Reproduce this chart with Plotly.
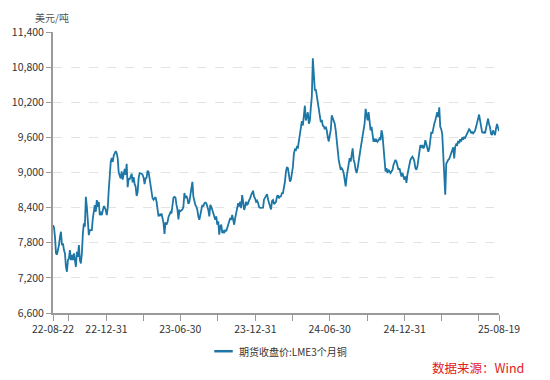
import pandas as pd
import plotly.graph_objects as go

# ---- data ----
start_date = "2022-08-22"
end_date = "2025-08-19"
series_name = "期货收盘价:LME3个月铜"
unit_label = "美元/吨"
source_label = "数据来源：Wind"

prices = [
    8101, 8060, 7900, 7620, 7600, 7680, 7760, 7902, 7988, 7760,
    7789, 7675, 7618, 7390, 7305, 7504, 7533, 7675, 7504, 7590,
    7504, 7618, 7533, 7390, 7646, 7561, 7760, 7504, 7447, 7618,
    7959, 8130, 8073, 8585, 8414, 8187, 7931, 8016, 8016, 8016,
    8215, 8357, 8443, 8329, 8528, 8414, 8500, 8272, 8329, 8272,
    8386, 8426, 8403, 8357, 8272, 8400, 8700, 9000, 9180, 9250,
    9180, 9290, 9345, 9364, 9330, 9240, 9000, 8930, 8900, 9020,
    8880, 8970, 9060, 8960, 9150, 8750, 8900, 8880, 8940, 8980,
    8830, 8920, 8800, 8760, 8600, 8660, 8900, 8990, 8985, 8983,
    8960, 8910, 8800, 8900, 8910, 9030, 9010, 8880, 8760, 8600,
    8560, 8535, 8550, 8580, 8500, 8400, 8250, 8290, 8260, 8300,
    8200, 8140, 7950, 8150, 8110, 8150, 8240, 8270, 8320, 8300,
    8400, 8570, 8585, 8574, 8450, 8370, 8200, 8350, 8340, 8360,
    8369, 8420, 8650, 8560, 8600, 8558, 8463, 8502, 8615, 8699,
    8840, 8587, 8502, 8446, 8418, 8361, 8249, 8192, 8277, 8390,
    8446, 8418, 8474, 8485, 8474, 8418, 8361, 8249, 8446, 8418,
    8361, 8305, 8221, 8192, 8249, 8108, 8164, 7939, 8080, 8108,
    7967, 7995, 7967, 8023, 7995, 8052, 8080, 8164, 8221, 8192,
    8277, 8192, 8108, 8221, 8305, 8390, 8474, 8418, 8502, 8390,
    8615, 8502, 8361, 8418, 8502, 8446, 8474, 8530, 8558, 8615,
    8671, 8688, 8587, 8558, 8502, 8520, 8480, 8410, 8396, 8396,
    8396, 8400, 8540, 8580, 8620, 8630, 8540, 8470, 8396, 8368,
    8515, 8530, 8460, 8490, 8500, 8590, 8610, 8560, 8590, 8593,
    8649, 8649, 8734, 8846, 9015, 9090, 9072, 8903, 8846, 8875,
    8987, 9100, 9325, 9392, 9381, 9438, 9426, 9550, 9606, 9803,
    9877, 9803, 9955, 10141, 9888, 9972, 10029, 9832, 9888, 10113,
    10300, 10950, 10700, 10400, 10420, 10300, 10150, 10050, 9950, 9860,
    9900, 9800, 9790, 9740, 9780, 9720, 9600, 9530, 9640, 9719,
    9975, 9918, 9890, 9834, 9721, 9553, 9271, 9215, 9130, 9046,
    9074, 9046, 8990, 8877, 8764, 8933, 9018, 9102, 9243, 9187,
    9271, 9412, 9215, 9159, 9046, 8990, 9074, 9159, 9299, 9412,
    9524, 9609, 9721, 9834, 10087, 9947, 9890, 10031, 9890, 9721,
    9778, 9637, 9524, 9580, 9524, 9553, 9524, 9553, 9580, 9553,
    9721, 9637, 9384, 9215, 9018, 9074, 8990, 9046, 9018, 8990,
    9018, 9046, 9130, 9187, 9215, 9187, 9074, 9046, 9074, 8962,
    8933, 8990, 8905, 8877, 8933, 8821, 8962, 9074, 9130, 9215,
    9243, 9271, 9243, 9187, 9074, 9046, 9102, 9215, 9412, 9468,
    9440, 9468, 9412, 9440, 9553, 9496, 9440, 9355, 9412, 9580,
    9693, 9665, 9778, 9834, 9890, 9975, 10031, 9947, 10115, 9780,
    9740, 9650, 9200, 8880, 8620, 9150, 9200, 9215, 9230, 9280,
    9360, 9400, 9430, 9240, 9440, 9480, 9470, 9540, 9500, 9570,
    9530, 9600, 9560, 9600, 9590, 9630, 9660, 9690, 9740, 9720,
    9670, 9690, 9670, 9690, 9720, 9780, 9880, 9920, 9990, 9900,
    9840, 9690, 9680, 9690, 9670, 9780, 9840, 9920, 9830, 9770,
    9660, 9640, 9720, 9660, 9640, 9750, 9830, 9770, 9710,
]

dates = pd.date_range(start_date, end_date, periods=len(prices))

y_ticks = [6600, 7200, 7800, 8400, 9000, 9600, 10200, 10800, 11400]

x_tick_dates = [
    "2022-08-22", "2022-09-30", "2022-12-31", "2023-03-31", "2023-06-30",
    "2023-09-30", "2023-12-31", "2024-03-31", "2024-06-30", "2024-09-30",
    "2024-12-31", "2025-03-31", "2025-06-30", "2025-08-19",
]
x_tick_text = [
    "22-08-22", "", "22-12-31", "", "23-06-30",
    "", "23-12-31", "", "24-06-30", "",
    "24-12-31", "", "", "25-08-19",
]

LINE_COLOR = "#1c76a6"
AXIS_COLOR = "#9a9a9a"
TEXT_COLOR = "#333333"
FONT = "Microsoft YaHei, Noto Sans CJK SC, sans-serif"

fig = go.Figure()
fig.add_trace(go.Scatter(
    x=dates, y=prices, mode="lines", name=series_name,
    line=dict(color=LINE_COLOR, width=1.8),
    showlegend=False,
))

fig.update_layout(
    width=550, height=380,
    margin=dict(l=51, r=51, t=32, b=67),
    paper_bgcolor="white", plot_bgcolor="white",
    font=dict(family=FONT, size=10, color=TEXT_COLOR),
    xaxis=dict(
        type="date",
        range=[start_date, end_date],
        tickmode="array", tickvals=x_tick_dates, ticktext=x_tick_text,
        ticks="outside", ticklen=6, tickcolor=AXIS_COLOR, tickwidth=1,
        showline=True, linecolor=AXIS_COLOR, linewidth=1.5,
        showgrid=False, zeroline=False,
        tickfont=dict(size=10.5, color=TEXT_COLOR),
    ),
    yaxis=dict(
        range=[6600, 11400],
        tickmode="array", tickvals=y_ticks,
        tickformat=",",
        ticks="outside", ticklen=5, tickcolor=AXIS_COLOR, tickwidth=1,
        showline=True, linecolor=AXIS_COLOR, linewidth=2,
        showgrid=True, gridcolor="#e3e3e3", griddash="dash", gridwidth=1,
        zeroline=False,
        tickfont=dict(size=10.5, color=TEXT_COLOR),
    ),
)

# legend drawn manually (short line sample + label)
fig.add_shape(type="line", xref="paper", yref="paper",
              x0=0.3616, x1=0.403, y0=-0.136, y1=-0.136,
              line=dict(color=LINE_COLOR, width=2.5))
fig.add_annotation(text=series_name, xref="paper", yref="paper",
                   x=0.413, y=-0.136, xanchor="left", yanchor="middle",
                   showarrow=False, font=dict(size=10, color=TEXT_COLOR))

# unit label
fig.add_annotation(text=unit_label, xref="paper", yref="paper",
                   x=-0.002, y=1.052, xanchor="center", yanchor="middle",
                   showarrow=False, font=dict(size=10, color="#555555"))

# source
fig.add_annotation(text=source_label, xref="paper", yref="paper",
                   x=1.06, y=-0.195, xanchor="right", yanchor="middle",
                   showarrow=False, font=dict(size=12.5, color="#e0201b"))

fig.write_html(
    "out.html",
    config={"displayModeBar": False},
    post_script="document.body.style.margin='0';document.body.style.overflow='hidden';",
)
